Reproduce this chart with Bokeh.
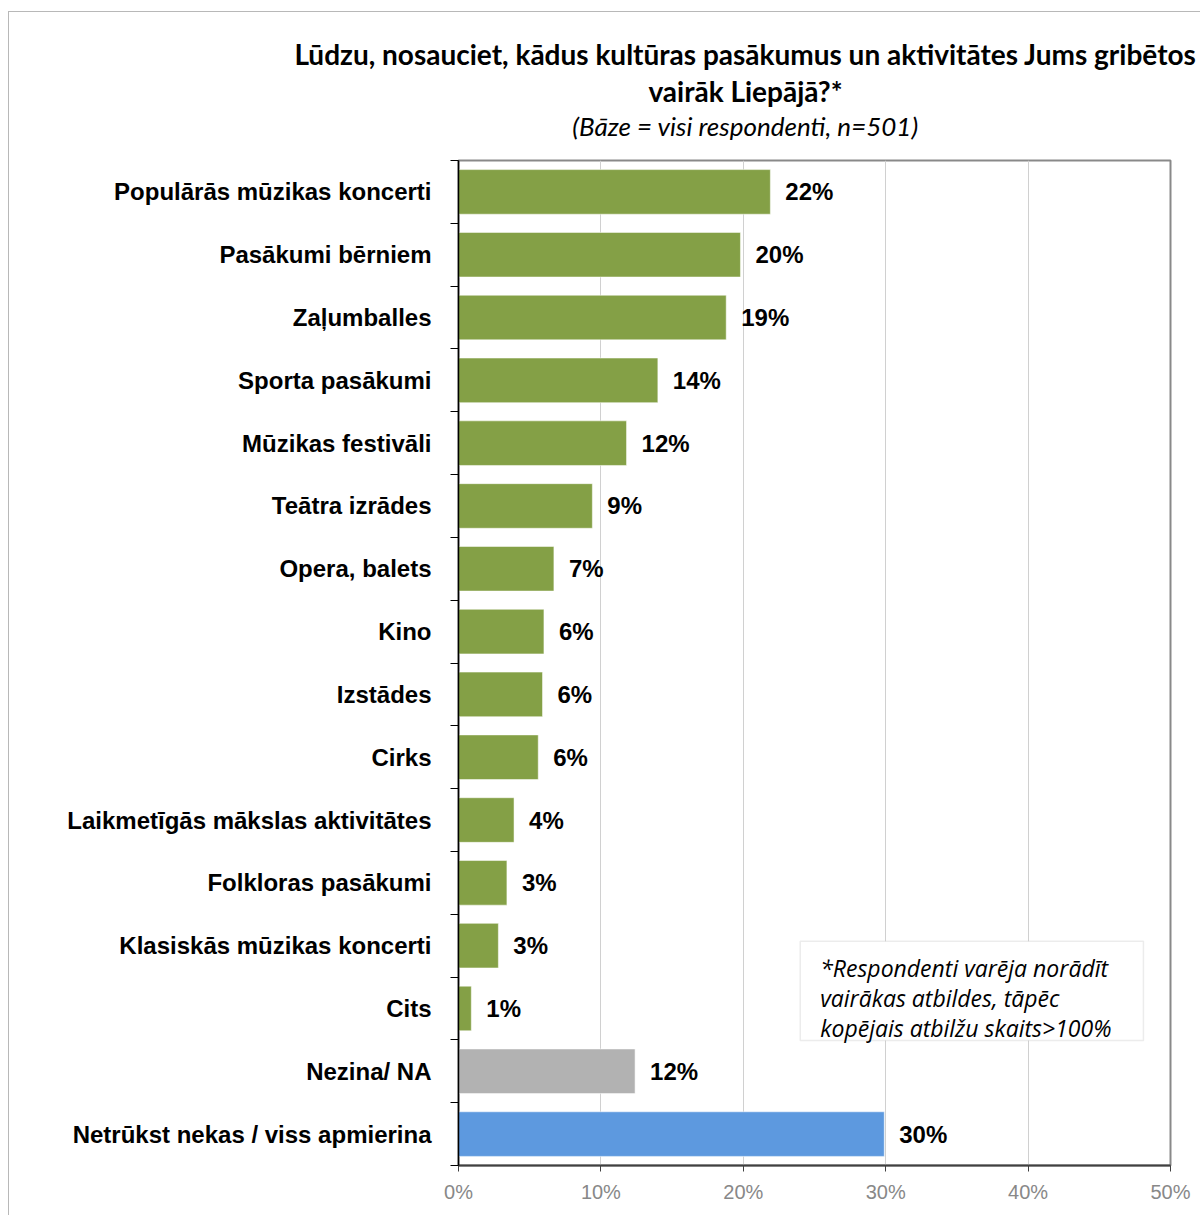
from bokeh.plotting import figure
from bokeh.layouts import column
from bokeh.models import (Range1d, FixedTicker, Label, BoxAnnotation, ColumnDataSource)
from bokeh.core.properties import value
from bokeh.embed import file_html
from bokeh.resources import INLINE

categories = ["Populārās mūzikas koncerti", "Pasākumi bērniem", "Zaļumballes",
              "Sporta pasākumi", "Mūzikas festivāli", "Teātra izrādes", "Opera, balets",
              "Kino", "Izstādes", "Cirks", "Laikmetīgās mākslas aktivitātes",
              "Folkloras pasākumi", "Klasiskās mūzikas koncerti", "Cits", "Nezina/ NA",
              "Netrūkst nekas / viss apmierina"]
values = [21.9, 19.8, 18.8, 14.0, 11.8, 9.4, 6.7, 6.0, 5.9, 5.6, 3.9, 3.4, 2.8, 0.9, 12.4, 29.9]
groups = ["main"] * 14 + ["na", "none"]
group_colors = {"main": "#84A046", "na": "#B2B2B2", "none": "#5D99DF"}
x_ticks = [0, 10, 20, 30, 40, 50]
title_lines = ["Lūdzu, nosauciet, kādus kultūras pasākumus un aktivitātes Jums gribētos",
               "vairāk Liepājā?*"]
subtitle = "(Bāze = visi respondenti, n=501)"
note_lines = ["*Respondenti varēja norādīt", "vairākas atbildes, tāpēc",
              "kopējais atbilžu skaits>100%"]

# ---------- title strip (data units = page pixels) ----------
t = figure(width=1191, height=138, output_backend="svg", toolbar_location=None,
           x_range=Range1d(9, 1200), y_range=Range1d(150, 12), title=None,
           x_axis_location=None, y_axis_location=None,
           min_border=0, min_border_left=0, min_border_right=0,
           min_border_top=0, min_border_bottom=0)
t.frame_align = False
t.outline_line_color = None
t.xgrid.visible = False
t.ygrid.visible = False
t.add_layout(Label(x=745, y=53, text=title_lines[0], text_align="center",
                   text_baseline="middle", text_font="Lato", text_font_style="bold",
                   text_font_size="28px", text_color="#000000"))
t.add_layout(Label(x=745, y=90, text=title_lines[1], text_align="center",
                   text_baseline="middle", text_font="Lato", text_font_style="bold",
                   text_font_size="28px", text_color="#000000"))
t.add_layout(Label(x=745, y=125, text=subtitle, text_align="center",
                   text_baseline="middle", text_font="Lato", text_font_style="italic",
                   text_font_size="26px", text_color="#000000"))

# ---------- main chart ----------
n = len(categories)
ypos = [n - i - 0.5 for i in range(n)]
src = ColumnDataSource(dict(
    y=ypos, v=values, cat=categories,
    lbl=[f"{round(v)}%" for v in values],
    color=[group_colors[g] for g in groups],
))

p = figure(width=1191, height=1065, output_backend="svg", toolbar_location=None,
           x_range=Range1d(0, 50), y_range=Range1d(0, n), title=None,
           min_border_left=449, min_border_right=30, min_border_top=10, min_border_bottom=50)
p.frame_align = False
p.outline_line_color = "#898989"
p.outline_line_width = 2

p.hbar(y="y", right="v", left=0, height=0.71, source=src, fill_color="color",
       line_color="#ffffff", line_alpha=0.5, line_width=1)
p.text(x="v", y="y", text="lbl", source=src, x_offset=15, text_baseline="middle",
       text_font=value("Liberation Sans"), text_font_style="bold", text_font_size="24px",
       text_color="#000000")

xa = p.xaxis[0]
xa.ticker = FixedTicker(ticks=x_ticks)
xa.major_label_overrides = {tk: f"{tk}%" for tk in x_ticks}
xa.major_label_text_font = "Liberation Sans"
xa.major_label_text_font_size = "20px"
xa.major_label_text_color = "#888888"
xa.major_tick_out = 6
xa.major_tick_in = 0
xa.minor_tick_out = 0
xa.minor_tick_in = 0
xa.axis_line_color = "#404040"
xa.axis_line_width = 2
xa.major_tick_line_color = "#404040"
xa.major_label_standoff = 9

ya = p.yaxis[0]
ya.ticker = FixedTicker(ticks=ypos, minor_ticks=list(range(n + 1)))
ya.major_label_overrides = {y: c for y, c in zip(ypos, categories)}
ya.major_label_text_font = "Liberation Sans"
ya.major_label_text_font_style = "bold"
ya.major_label_text_font_size = "24px"
ya.major_label_text_color = "#000000"
ya.major_tick_out = 0
ya.major_tick_in = 0
ya.minor_tick_out = 8
ya.minor_tick_in = 0
ya.minor_tick_line_color = "#000000"
ya.axis_line_color = "#000000"
ya.axis_line_width = 1.5
ya.major_label_standoff = 19

p.xgrid.ticker = FixedTicker(ticks=x_ticks)
p.xgrid.grid_line_color = "#d0d0d0"
p.ygrid.grid_line_color = None

p.add_layout(BoxAnnotation(left=24.0, right=48.1, bottom=1.99, top=3.57,
                           fill_color="white", fill_alpha=1.0,
                           line_color="#bfbfbf", line_width=1.5))
for i, line in enumerate(note_lines):
    p.add_layout(Label(x=25.4, y=3.15 - i * 0.48, text=line, text_font="Open Sans",
                       text_font_style="italic", text_font_size="23px",
                       text_baseline="middle", text_color="#000000"))

layout = column(t, p, spacing=0,
                styles={"margin-left": "8px", "margin-top": "11px",
                        "border-left": "1px solid #b8b8b8",
                        "border-top": "1px solid #b8b8b8"})
open("out.html", "w").write(file_html(layout, INLINE))
